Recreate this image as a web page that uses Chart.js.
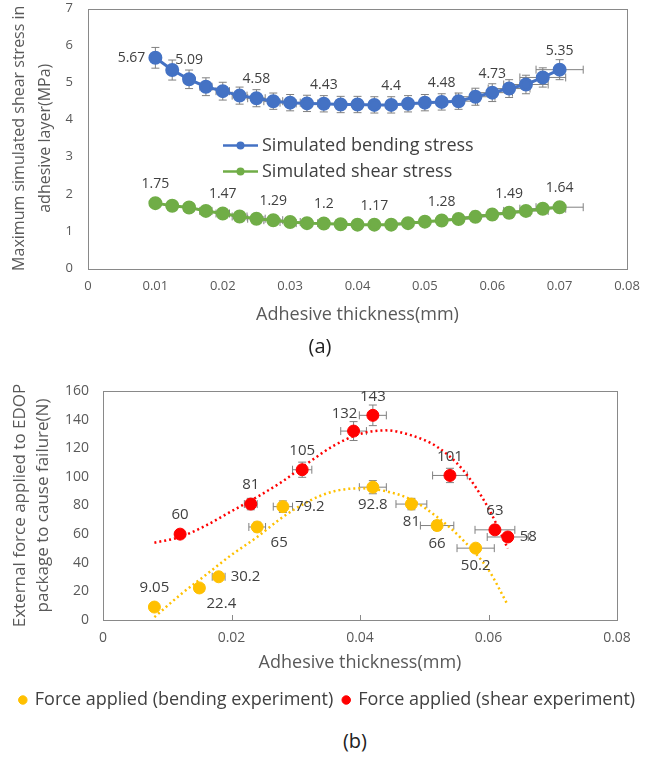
<!DOCTYPE html>
<html>
<head>
<meta charset="utf-8">
<script src="https://cdn.jsdelivr.net/npm/chart.js@4.4.1/dist/chart.umd.min.js"></script>
<style>
body{margin:0;background:#fff;width:655px;height:762px;position:relative;overflow:hidden;font-family:"Open Sans",sans-serif}
#wa{position:absolute;left:0;top:0;width:655px;height:360px}
#wb{position:absolute;left:0;top:360px;width:655px;height:360px}
.cap{position:absolute;font-size:20px;color:#222;width:60px;text-align:center;line-height:24px}
</style>
</head>
<body>
<div id="wa"><canvas id="chartA"></canvas></div>
<div id="wb"><canvas id="chartB"></canvas></div>
<div class="cap" style="left:290px;top:334px">(a)</div>
<div class="cap" style="left:325px;top:729px">(b)</div>
<script>
// (a) simulated stress vs adhesive thickness
var thickA = [0.01,0.0125,0.015,0.0175,0.02,0.0225,0.025,0.0275,0.03,0.0325,0.035,0.0375,0.04,
              0.0425,0.045,0.0475,0.05,0.0525,0.055,0.0575,0.06,0.0625,0.065,0.0675,0.07];
var bendStress = [5.67,5.34,5.09,4.89,4.77,4.65,4.58,4.50,4.46,4.44,4.43,4.41,4.41,
                  4.40,4.40,4.43,4.46,4.48,4.50,4.62,4.73,4.84,4.95,5.14,5.35];
var shearStress = [1.75,1.68,1.63,1.54,1.47,1.39,1.33,1.29,1.24,1.21,1.20,1.18,1.17,
                   1.17,1.17,1.21,1.25,1.28,1.32,1.38,1.44,1.49,1.54,1.60,1.64];
var bendStressErr = [0.28,0.27,0.25,0.24,0.24,0.23,0.23,0.22,0.22,0.22,0.22,0.22,0.22,
                     0.22,0.22,0.22,0.22,0.22,0.22,0.23,0.24,0.24,0.25,0.26,0.27];
var shearStressErr = [0.09,0.08,0.08,0.08,0.07,0.07,0.07,0.06,0.06,0.06,0.06,0.06,0.06,
                      0.06,0.06,0.06,0.06,0.06,0.07,0.07,0.07,0.07,0.08,0.08,0.08];
var thickAErr = [0.0005,0.0006,0.0008,0.0009,0.001,0.0011,0.0013,0.0014,0.0015,0.0016,0.0018,0.0019,0.002,
                 0.0021,0.0023,0.0024,0.0025,0.0026,0.0028,0.0029,0.003,0.0031,0.0033,0.0034,0.0035];
// which points carry a value label, and where
var bendLabelPos = ['left',null,'above',null,null,null,'above',null,null,null,'above',null,null,
                    null,'above',null,null,'above',null,null,'above',null,null,null,'above'];
var shearLabelPos = ['above',null,null,null,'above',null,null,'above',null,null,'above',null,null,
                     'above',null,null,null,'above',null,null,null,'above',null,null,'above'];

// (b) force to cause failure vs adhesive thickness
var bendX = [0.008,0.015,0.018,0.024,0.028,0.042,0.048,0.052,0.058];
var bendForce = [9.05,22.4,30.2,65,79.2,92.8,81,66,50.2];
var bendXErr = [0.0002,0.0007,0.001,0.0013,0.0015,0.0021,0.0024,0.0026,0.0029];
var bendForceErr = [0.5,1.1,1.5,3.3,4,4.6,4,3.3,2.5];
var bendForceLabelPos = ['above','belowRight','right','belowRight','right','below','below','below','below'];
var shearX = [0.012,0.023,0.031,0.039,0.042,0.054,0.061,0.063];
var shearForce = [60,81,105,132,143,101,63,58];
var shearXErr = [0.0005,0.001,0.0015,0.002,0.0021,0.0027,0.0031,0.0032];
var shearForceErr = [3,4,5.3,6.6,7.2,5,3.2,2.9];
var shearForceLabelPos = ['above','above','above','aboveLeft','above','above','above','right'];
// dotted trend lines
var trendX = [0.008,0.012,0.016,0.02,0.024,0.028,0.032,0.036,0.04,0.044,0.048,0.052,0.056,0.06,0.063];
var bendTrend = [2,17.5,31.5,45.5,58,72,83,90,92,90,84,72,56,35,10.5];
var shearTrend = [54,58,66,76,86,97,110,122,130,132.5,129,121,105,78,50];

function pts(xs, ys){ return xs.map(function(x,i){ return {x:x, y:ys[i]}; }); }

Chart.defaults.font.family = '"Open Sans", sans-serif';
Chart.defaults.color = '#595959';

var errorBars = {
  id: 'errorBars',
  beforeDatasetsDraw: function(chart){
    var ctx = chart.ctx, sx = chart.scales.x, sy = chart.scales.y;
    ctx.save();
    ctx.strokeStyle = '#808080';
    ctx.lineWidth = 1;
    chart.data.datasets.forEach(function(ds){
      if (!ds.xErr && !ds.yErr) return;
      ds.data.forEach(function(p, j){
        var px = sx.getPixelForValue(p.x), py = sy.getPixelForValue(p.y), c = 4;
        ctx.beginPath();
        if (ds.yErr){
          var t = sy.getPixelForValue(p.y + ds.yErr[j]), b = sy.getPixelForValue(p.y - ds.yErr[j]);
          ctx.moveTo(px, t); ctx.lineTo(px, b);
          ctx.moveTo(px - c, t); ctx.lineTo(px + c, t);
          ctx.moveTo(px - c, b); ctx.lineTo(px + c, b);
        }
        if (ds.xErr){
          var l = sx.getPixelForValue(p.x - ds.xErr[j]), r = sx.getPixelForValue(p.x + ds.xErr[j]);
          ctx.moveTo(l, py); ctx.lineTo(r, py);
          ctx.moveTo(l, py - c); ctx.lineTo(l, py + c);
          ctx.moveTo(r, py - c); ctx.lineTo(r, py + c);
        }
        ctx.stroke();
      });
    });
    ctx.restore();
  }
};

var plotBox = {
  id: 'plotBox',
  beforeDatasetsDraw: function(chart, args, opts){
    var a = chart.chartArea, ctx = chart.ctx;
    ctx.save();
    ctx.strokeStyle = '#898989';
    ctx.lineWidth = 1;
    ctx.strokeRect(Math.round(a.left) + 0.5, Math.round(a.top) + 0.5,
                   Math.round(a.right - a.left), Math.round(a.bottom - a.top));
    if (opts.innerTicks) {
      var sx = chart.scales.x;
      ctx.beginPath();
      sx.ticks.forEach(function(t){
        var x = Math.round(sx.getPixelForValue(t.value)) + 0.5;
        ctx.moveTo(x, a.bottom); ctx.lineTo(x, a.bottom - 5);
      });
      ctx.stroke();
    }
    ctx.restore();
  }
};

var valueLabels = {
  id: 'valueLabels',
  afterDatasetsDraw: function(chart){
    var ctx = chart.ctx;
    ctx.save();
    ctx.fillStyle = '#404040';
    chart.data.datasets.forEach(function(ds, i){
      if (!ds.labelPos) return;
      var meta = chart.getDatasetMeta(i);
      ctx.font = ds.labelFont;
      ds.labelPos.forEach(function(pos, j){
        if (!pos) return;
        var el = meta.data[j], txt = String(ds.data[j].y), x = el.x, y = el.y;
        ctx.textBaseline = 'middle';
        ctx.textAlign = 'center';
        if (pos === 'above') { y -= 19; }
        else if (pos === 'below') { y += 18; }
        else if (pos === 'left') { ctx.textAlign = 'right'; x -= 10; }
        else if (pos === 'right') { ctx.textAlign = 'left'; x += 12; }
        else if (pos === 'belowRight') { x += 22; y += 16; }
        else if (pos === 'aboveLeft') { x -= 9; y -= 17; }
        ctx.fillText(txt, x, y);
      });
    });
    ctx.restore();
  }
};

var insideLegend = {
  id: 'insideLegend',
  afterDraw: function(chart){
    var ctx = chart.ctx, a = chart.chartArea;
    ctx.save();
    chart.data.datasets.forEach(function(ds, i){
      var y = a.top + 137 + i * 26, x0 = a.left + 135;
      ctx.strokeStyle = ds.borderColor;
      ctx.lineWidth = 2.5;
      ctx.beginPath(); ctx.moveTo(x0, y); ctx.lineTo(x0 + 35, y); ctx.stroke();
      ctx.fillStyle = ds.backgroundColor;
      ctx.beginPath(); ctx.arc(x0 + 17.5, y, 4, 0, Math.PI * 2); ctx.fill();
      ctx.fillStyle = '#404040';
      ctx.font = '18px "Open Sans", sans-serif';
      ctx.textAlign = 'left'; ctx.textBaseline = 'middle';
      ctx.fillText(ds.label, x0 + 39, y);
    });
    ctx.restore();
  }
};

function fmtTick(v){ return v === 0 ? '0' : String(Number(v.toFixed(2))); }

new Chart(document.getElementById('chartA'), {
  type: 'scatter',
  data: {
    datasets: [{
      label: 'Simulated bending stress',
      data: pts(thickA, bendStress),
      showLine: true,
      borderColor: '#4472C4', backgroundColor: '#4472C4',
      borderWidth: 3, pointRadius: 5.5, pointHoverRadius: 5.5,
      xErr: thickAErr, yErr: bendStressErr,
      labelPos: bendLabelPos, labelFont: '14px "Open Sans", sans-serif'
    }, {
      label: 'Simulated shear stress',
      data: pts(thickA, shearStress),
      showLine: true,
      borderColor: '#70AD47', backgroundColor: '#70AD47',
      borderWidth: 3, pointRadius: 5.5, pointHoverRadius: 5.5,
      xErr: thickAErr, yErr: shearStressErr,
      labelPos: shearLabelPos, labelFont: '14px "Open Sans", sans-serif'
    }]
  },
  options: {
    responsive: true, maintainAspectRatio: false, animation: false,
    layout: {padding: {top: 7, right: 28, bottom: 32, left: 0}},
    plugins: {legend: {display: false}, tooltip: {enabled: false}},
    scales: {
      x: {
        type: 'linear', min: 0, max: 0.08,
        grid: {display: false, drawTicks: false},
        border: {display: false},
        ticks: {stepSize: 0.01, padding: 10, font: {size: 13}, callback: fmtTick},
        title: {display: true, text: 'Adhesive thickness(mm)', font: {size: 18}, color: '#595959', padding: {top: 0, bottom: 2}},
        afterFit: function(s){ s.height = 60; }
      },
      y: {
        min: 0, max: 7,
        grid: {display: false, drawTicks: false},
        border: {display: false},
        ticks: {stepSize: 1, padding: 15, font: {size: 13}},
        title: {display: true, text: ['Maximum simulated shear stress in', 'adhesive layer(MPa)'],
                font: {size: 16, lineHeight: 1.6}, color: '#595959', padding: {top: 7, bottom: 0}},
        afterFit: function(s){ s.width = 88; s.paddingTop = 0; s.paddingBottom = 0; }
      }
    }
  },
  plugins: [plotBox, errorBars, valueLabels, insideLegend]
});

new Chart(document.getElementById('chartB'), {
  type: 'scatter',
  data: {
    datasets: [{
      label: 'Force applied (bending experiment)',
      data: pts(bendX, bendForce),
      borderColor: '#FFC000', backgroundColor: '#FFC000',
      pointRadius: 6, pointHoverRadius: 6,
      xErr: bendXErr, yErr: bendForceErr,
      labelPos: bendForceLabelPos, labelFont: '15px "Open Sans", sans-serif'
    }, {
      label: 'Force applied (shear experiment)',
      data: pts(shearX, shearForce),
      borderColor: '#FF0000', backgroundColor: '#FF0000',
      pointRadius: 6, pointHoverRadius: 6,
      xErr: shearXErr, yErr: shearForceErr,
      labelPos: shearForceLabelPos, labelFont: '15px "Open Sans", sans-serif'
    }, {
      label: 'trend bending',
      data: pts(trendX, bendTrend),
      showLine: true, cubicInterpolationMode: 'monotone',
      borderColor: '#FFC000', borderWidth: 2.5, borderDash: [2, 3],
      pointRadius: 0, pointHoverRadius: 0
    }, {
      label: 'trend shear',
      data: pts(trendX, shearTrend),
      showLine: true, cubicInterpolationMode: 'monotone',
      borderColor: '#FF0000', borderWidth: 2.5, borderDash: [2, 3],
      pointRadius: 0, pointHoverRadius: 0
    }]
  },
  options: {
    responsive: true, maintainAspectRatio: false, animation: false,
    layout: {padding: {top: 31, right: 0, bottom: 1, left: 0}},
    plugins: {
      tooltip: {enabled: false},
      plotBox: {innerTicks: true},
      legend: {
        position: 'bottom',
        labels: {
          usePointStyle: true, pointStyle: 'circle', boxWidth: 6, boxHeight: 6,
          padding: 10, color: '#404040', font: {size: 18},
          filter: function(item){ return item.datasetIndex < 2; }
        }
      }
    },
    scales: {
      x: {
        type: 'linear', min: 0, max: 0.08,
        grid: {display: false, drawTicks: false},
        border: {display: false},
        ticks: {stepSize: 0.02, padding: 10, font: {size: 14}, callback: fmtTick},
        title: {display: true, text: 'Adhesive thickness(mm)', font: {size: 18}, color: '#595959', padding: {top: 0, bottom: 7}},
        afterFit: function(s){ s.height = 61; }
      },
      y: {
        min: 0, max: 160,
        grid: {display: false, drawTicks: false},
        border: {display: false},
        ticks: {stepSize: 20, padding: 14, font: {size: 14}},
        title: {display: true, text: ['External force applied to EDOP', 'package to cause failure(N)'],
                font: {size: 17, lineHeight: 1.35}, color: '#595959', padding: {top: 9, bottom: 0}},
        afterFit: function(s){ s.width = 103; s.paddingTop = 0; s.paddingBottom = 0; }
      },
      // empty right-hand axis that only keeps the right margin
      yRight: {
        position: 'right', display: true,
        grid: {display: false, drawTicks: false},
        border: {display: false},
        ticks: {display: false},
        afterFit: function(s){ s.width = 38; s.paddingTop = 0; s.paddingBottom = 0; }
      }
    }
  },
  plugins: [plotBox, errorBars, valueLabels]
});
</script>
</body>
</html>
